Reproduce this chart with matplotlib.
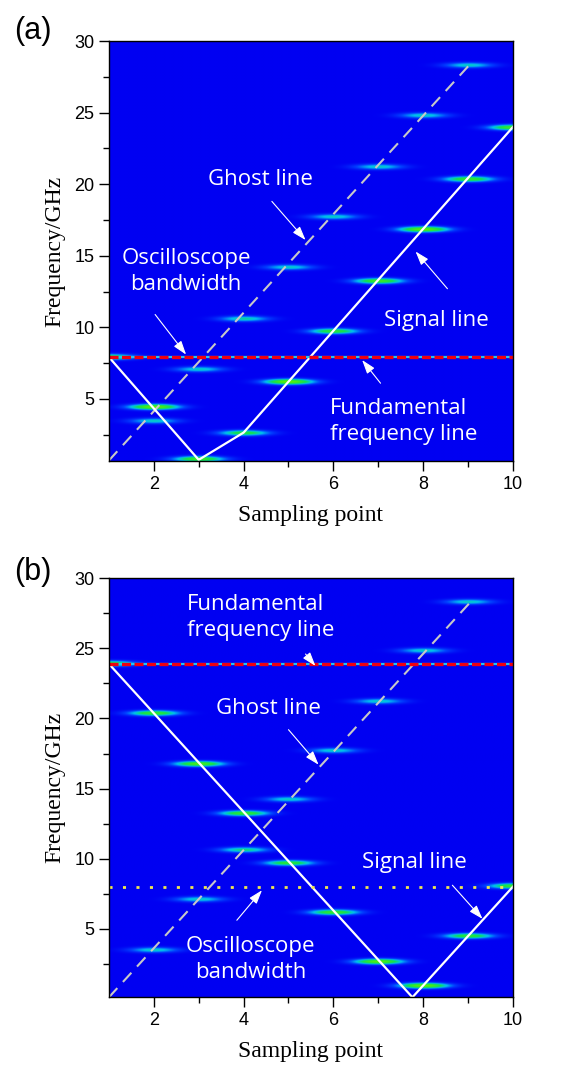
import numpy as np
import matplotlib
matplotlib.use("Agg")
import matplotlib.pyplot as plt
from matplotlib.colors import LinearSegmentedColormap

plt.rcParams['lines.scale_dashes'] = False

# ---- data ----
# panel (a): spectral peaks (sampling point, frequency GHz, relative strength)
a_peak_x = [1, 2, 2, 3, 3, 4, 4, 5, 5, 6, 6, 7, 7, 8, 8, 9, 9, 10]
a_peak_f = [7.93, 4.44, 3.46, 0.80, 7.07, 2.62, 10.6, 6.20, 14.2, 9.73, 17.73,
            13.24, 21.22, 16.85, 24.81, 20.36, 28.32, 23.97]
a_peak_amp = [0.8, 1.0, 0.45, 0.85, 0.45, 0.7, 0.5, 1.0, 0.45, 0.75, 0.45,
              0.85, 0.45, 1.0, 0.45, 0.8, 0.45, 0.85]
a_signal_x = [1, 3, 4, 10]
a_signal_f = [7.93, 0.75, 2.65, 24.0]
a_ghost_x = [1, 9.02]
a_ghost_f = [0.7, 28.3]
a_fund = 7.93
a_ylim = (0.67, 30)

# panel (b)
b_peak_x = [1, 2, 2, 3, 3, 4, 4, 5, 5, 6, 6, 7, 7, 8, 8, 9, 9, 10]
b_peak_f = [23.9, 20.36, 3.45, 16.74, 7.07, 13.21, 10.6, 14.21, 9.66, 17.69,
            6.14, 21.21, 2.62, 24.83, 0.90, 28.31, 4.45, 8.02]
b_peak_amp = [0.8, 0.8, 0.45, 0.9, 0.45, 0.8, 0.55, 0.45, 0.75, 0.45,
              0.8, 0.45, 0.95, 0.45, 1.0, 0.45, 0.75, 0.8]
b_signal_x = [1, 7.76, 10]
b_signal_f = [23.9, 0.1, 8.0]
b_ghost_x = [1, 9.05]
b_ghost_f = [0.1, 28.3]
b_fund = 23.9
b_scope = 7.97
b_ylim = (0.1, 30)

# annotations: text, text pos, arrow tail, arrow head, alignment
a_notes = [
    ("Ghost line", (4.37, 20.3), (4.63, 18.8), (5.38, 16.1), "center"),
    ("Oscilloscope\nbandwidth", (2.72, 13.9), (2.03, 10.9), (2.72, 8.1), "center"),
    ("Signal line", (8.30, 10.5), (8.54, 12.7), (7.83, 15.3), "center"),
    ("Fundamental\nfrequency line", (5.93, 3.4), (7.05, 6.1), (6.64, 7.72), "left"),
]
b_notes = [
    ("Fundamental\nfrequency line", (2.74, 27.2), (5.38, 24.6), (5.60, 23.75), "left"),
    ("Ghost line", (4.56, 20.7), (5.0, 19.2), (5.67, 16.7), "center"),
    ("Signal line", (7.80, 9.7), (8.65, 8.1), (9.32, 5.7), "center"),
    ("Oscilloscope\nbandwidth", (4.15, 2.8), (3.85, 5.6), (4.41, 7.74), "center"),
]

cmap = LinearSegmentedColormap.from_list(
    "spec", [(0, "#0000f2"), (0.18, "#0040ff"), (0.38, "#00c0f0"),
             (0.6, "#10e050"), (1.0, "#60f000")])


def spectrum(px, pf, amp, ylim):
    xs = np.linspace(1, 10, 900)
    ys = np.linspace(ylim[0], ylim[1], 1400)
    X, Y = np.meshgrid(xs, ys)
    Z = np.zeros_like(X)
    for x0, f0, a in zip(px, pf, amp):
        Z += a * np.exp(-(X - x0) ** 2 / (2 * 0.37 ** 2) - (Y - f0) ** 2 / (2 * 0.13 ** 2))
    return np.clip(Z, 0, 1)


def draw_panel(ax, px, pf, amp, ylim, sx, sf, gx, gf, fund, notes, scope=None):
    Z = spectrum(px, pf, amp, ylim)
    ax.imshow(Z, origin="lower", extent=[1, 10, ylim[0], ylim[1]], aspect="auto",
              cmap=cmap, vmin=0, vmax=1, interpolation="bilinear")
    ax.plot(gx, gf, color="#c8c8c8", lw=1.5, dashes=(9, 6))
    ax.plot(sx, sf, color="white", lw=1.6)
    if scope is not None:
        ax.axhline(scope, color="#f0e850", lw=2, dashes=(2.2, 7.5))
    ax.axhline(fund, color="#20c8f0", lw=1.6)
    ax.axhline(fund, color="#f00010", lw=2.4, dashes=(6.5, 2.5))
    for txt, tpos, tail, head, ha in notes:
        ax.text(tpos[0], tpos[1], txt, color="white", fontsize=16, family="Open Sans",
                ha=ha, va="center", linespacing=1.3)
        ax.annotate("", xy=head, xytext=tail,
                    arrowprops=dict(arrowstyle="-|>,head_length=0.6,head_width=0.2",
                                    color="white", lw=0.8, mutation_scale=14,
                                    shrinkA=0, shrinkB=0))
    ax.set_xlim(1, 10)
    ax.set_ylim(*ylim)
    ax.set_xticks([2, 4, 6, 8, 10])
    ax.set_xticks([3, 5, 7, 9], minor=True)
    ax.set_yticks([5, 10, 15, 20, 25, 30])
    ax.set_yticks([2.5, 7.5, 12.5, 17.5, 22.5, 27.5], minor=True)
    ax.tick_params(which="major", length=7, width=1, direction="out", labelsize=13)
    ax.tick_params(which="minor", length=4, width=1, direction="out")
    for lab in ax.get_xticklabels() + ax.get_yticklabels():
        lab.set_family("Liberation Sans")
    ax.set_xlabel("Sampling point", family="Liberation Serif", fontsize=17, labelpad=9)
    ax.set_ylabel("Frequency/GHz", family="Liberation Serif", fontsize=17, labelpad=6)
    for s in ax.spines.values():
        s.set_linewidth(1)


fig = plt.figure(figsize=(5.7, 10.74), dpi=100)
ax1 = fig.add_axes([0.191, 0.5708, 0.709, 0.391])
ax2 = fig.add_axes([0.191, 0.0714, 0.709, 0.3901])

draw_panel(ax1, a_peak_x, a_peak_f, a_peak_amp, a_ylim, a_signal_x, a_signal_f,
           a_ghost_x, a_ghost_f, a_fund, a_notes)
draw_panel(ax2, b_peak_x, b_peak_f, b_peak_amp, b_ylim, b_signal_x, b_signal_f,
           b_ghost_x, b_ghost_f, b_fund, b_notes, scope=b_scope)

fig.text(0.058, 0.971, "(a)", fontsize=22, family="Liberation Sans", ha="center", va="center")
fig.text(0.058, 0.467, "(b)", fontsize=22, family="Liberation Sans", ha="center", va="center")

fig.savefig("out.png", dpi=100)
